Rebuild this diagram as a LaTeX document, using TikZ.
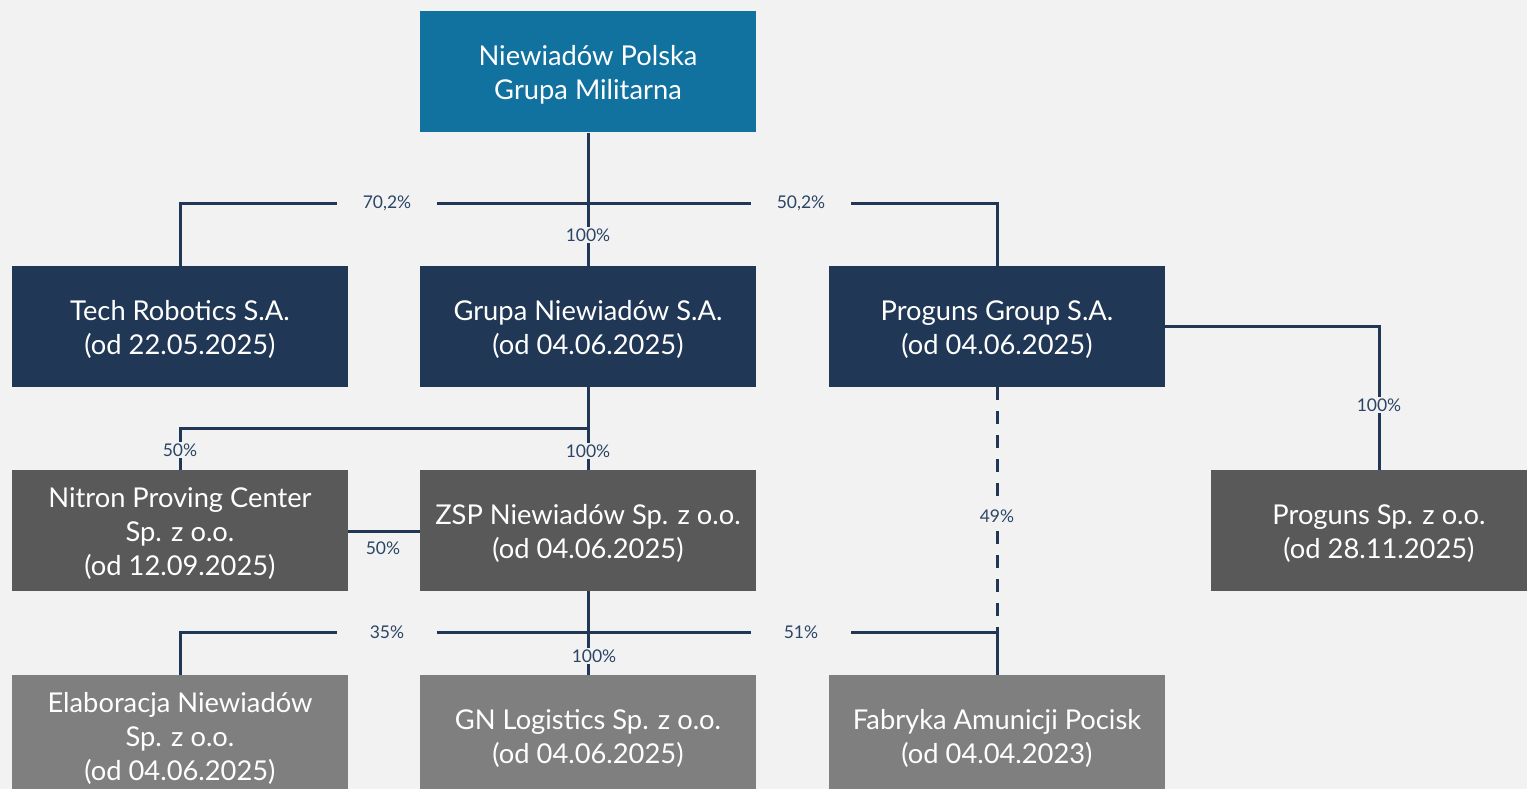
\documentclass[tikz,border=0pt]{standalone}
\usepackage{fontspec}
\setmainfont{Lato}
\definecolor{bgc}{HTML}{F2F2F2}
\definecolor{topc}{HTML}{11719F}
\definecolor{navyc}{HTML}{203755}
\definecolor{dgrayc}{HTML}{595959}
\definecolor{grayc}{HTML}{7F7F7F}
\definecolor{lblc}{HTML}{2B4565}
\tikzset{
  box/.style={minimum width=336pt, minimum height=121pt, inner sep=0pt},
  boxtxt/.style={text=white, align=center, inner sep=0pt, yshift=-3pt,
    font=\fontsize{27.3}{34}\selectfont},
  topbox/.style={box, fill=topc},
  navybox/.style={box, fill=navyc},
  dgraybox/.style={box, fill=dgrayc},
  graybox/.style={box, fill=grayc},
  conn/.style={draw=navyc, line width=3pt},
  dashconn/.style={conn, dash pattern=on 13pt off 11pt},
  lbl/.style={fill=bgc, text=lblc, inner xsep=3pt, inner ysep=2pt, font=\fontsize{17.5}{21}\selectfont},
  widelbl/.style={lbl, minimum width=100pt}
}
\begin{document}
\begin{tikzpicture}[x=1pt,y=-1pt]
\useasboundingbox (0,0) rectangle (1527,789);
\fill[bgc] (0,0) rectangle (1527,789);
\begin{scope}
\clip (0,0) rectangle (1527,789);
% boxes
\node[topbox, label={[boxtxt]center:{Niewiadów Polska\\Grupa Militarna}}] (top) at (588,72) {};
\node[navybox, label={[boxtxt]center:{Tech Robotics S.A.\\(od 22.05.2025)}}] (tech) at (180,326.5) {};
\node[navybox, label={[boxtxt]center:{Grupa Niewiadów S.A.\\(od 04.06.2025)}}] (grupa) at (588,326.5) {};
\node[navybox, label={[boxtxt]center:{Proguns Group S.A.\\(od 04.06.2025)}}] (proguns) at (997,326.5) {};
\node[dgraybox, label={[boxtxt]center:{Nitron Proving Center\\Sp. z o.o.\\(od 12.09.2025)}}] (nitron) at (180,530.5) {};
\node[dgraybox, label={[boxtxt]center:{ZSP Niewiadów Sp. z o.o.\\(od 04.06.2025)}}] (zsp) at (588,530.5) {};
\node[dgraybox, label={[boxtxt]center:{Proguns Sp. z o.o.\\(od 28.11.2025)}}] (progsp) at (1379,530.5) {};
\node[graybox, label={[boxtxt]center:{Elaboracja Niewiadów\\Sp. z o.o.\\(od 04.06.2025)}}] (elab) at (180,735.5) {};
\node[graybox, label={[boxtxt]center:{GN Logistics Sp. z o.o.\\(od 04.06.2025)}}] (gnl) at (588,735.5) {};
\node[graybox, label={[boxtxt]center:{Fabryka Amunicji Pocisk\\(od 04.04.2023)}}] (fab) at (997,735.5) {};
\end{scope}
% junction coordinates
\coordinate (h1) at (588,203.5);
\coordinate (h2) at (588,428.5);
\coordinate (h3) at (588,632.5);
\coordinate (d1) at (997,632.5);
% connectors
\draw[conn] (top.south) -- (grupa.north);
\draw[conn] (tech.north) |- (h1) -| (proguns.north);
\draw[conn] (grupa.south) -- (zsp.north);
\draw[conn] (h2) -| (nitron.north);
\draw[conn] (nitron.east |- 0,531) -- (zsp.west |- 0,531);
\draw[conn] (proguns.east) -| (progsp.north);
\draw[dashconn] (proguns.south) -- (d1);
\draw[conn] (zsp.south) -- (gnl.north);
\draw[conn] (elab.north) |- (h3) -| (fab.north);
% labels
\node[lbl] (l1) at (588,235) {100\%};
\node[widelbl] (l2) at (387,203.5) {70,2\%};
\node[widelbl] (l3) at (801,203.5) {50,2\%};
\node[lbl] (l4) at (180,450) {50\%};
\node[lbl] (l5) at (588,451) {100\%};
\node[text=lblc, font=\fontsize{17.5}{21}\selectfont] (l6) at (383,548) {50\%};
\node[lbl] (l7) at (1379,405) {100\%};
\node[lbl, inner ysep=8pt] (l8) at (997,516) {49\%};
\node[widelbl] (l9) at (387,632.5) {35\%};
\node[widelbl] (l10) at (801,632.5) {51\%};
\node[lbl] (l11) at (594,656) {100\%};
\end{tikzpicture}
\end{document}
